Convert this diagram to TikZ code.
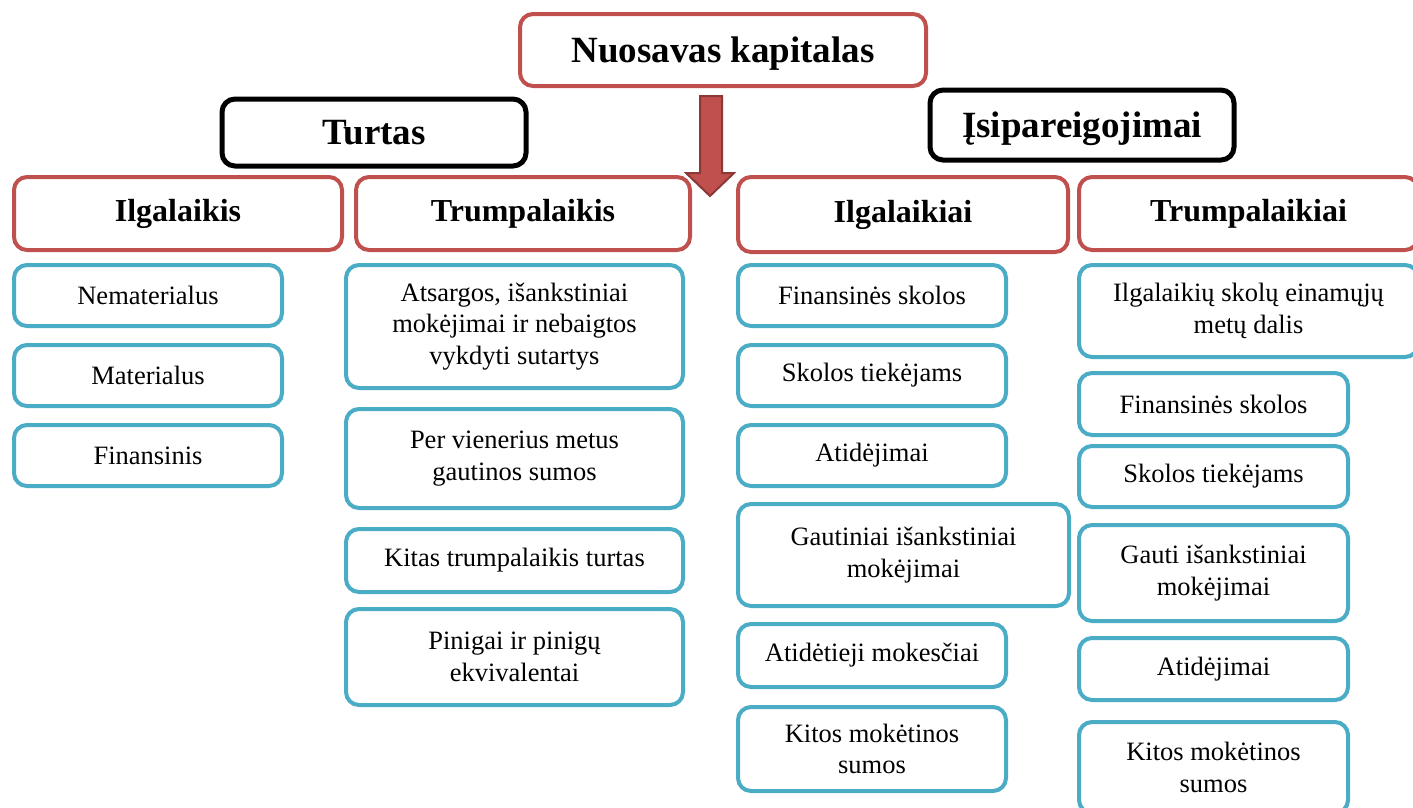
\documentclass[tikz,border=0pt]{standalone}
\usepackage{fontspec}
\setmainfont{Liberation Serif}
\definecolor{boxred}{HTML}{C0504D}
\definecolor{boxblue}{HTML}{4BACC6}
\definecolor{arrowdark}{HTML}{8C3836}
\tikzset{
  basebox/.style={rectangle, rounded corners=13pt, fill=white, inner sep=0pt, align=center, text=black},
  headbox/.style={basebox, draw=boxred, line width=4pt, font=\fontsize{37}{44}\selectfont\bfseries, text height=24.5pt, text depth=0pt},
  blackbox/.style={basebox, draw=black, line width=5pt, font=\fontsize{37}{44}\selectfont\bfseries, text height=24.5pt, text depth=0pt},
  subbox/.style={basebox, draw=boxred, line width=4pt, font=\fontsize{32}{38}\selectfont\bfseries},
  itembox/.style={basebox, draw=boxblue, line width=4pt, font=\fontsize{26.5}{31.5}\selectfont},
}
\newcommand{\bx}[7]{%
  \node[#2, minimum width={(#5-#3-4)*1pt}, minimum height={(#6-#4-4)*1pt}]
    (#1) at ({(#3+#5)/2*1pt},{-(#4+#6)/2*1pt}) {#7};}
\begin{document}
\begin{tikzpicture}[x=1pt,y=-1pt]
\useasboundingbox (0,0) rectangle (1413,807);
\clip (0,0) rectangle (1413,807);
% top
\bx{nk}{headbox}{518}{12}{928}{88}{Nuosavas kapitalas}
\bx{turtas}{blackbox}{220}{97}{528}{168}{Turtas}
\bx{isip}{blackbox}{928}{88}{1236}{162}{Įsipareigojimai}
% arrow
\draw[fill=boxred, draw=arrowdark, line width=2pt, line join=miter]
  (700,96) -- (722,96) -- (722,173) -- (734,173) -- (710,196) -- (686,173) -- (700,173) -- cycle;
% sub headings
\bx{ilg}{subbox}{12}{175}{344}{252}{Ilgalaikis}
\bx{trump}{subbox}{354}{175}{692}{252}{Trumpalaikis}
\bx{ilgi}{subbox}{736}{175}{1070}{254}{Ilgalaikiai}
\bx{trumpi}{subbox}{1077}{175}{1420}{252}{Trumpalaikiai}
% column 1
\bx{c1a}{itembox}{12}{263}{284}{328}{Nematerialus}
\bx{c1b}{itembox}{12}{343}{284}{408}{Materialus}
\bx{c1c}{itembox}{12}{423}{284}{488}{Finansinis}
% column 2
\bx{c2a}{itembox}{344}{263}{685}{390}{Atsargos, išankstiniai\\mokėjimai ir nebaigtos\\vykdyti sutartys}
\bx{c2b}{itembox}{344}{407}{685}{510}{Per vienerius metus\\gautinos sumos}
\bx{c2c}{itembox}{344}{527}{685}{594}{Kitas trumpalaikis turtas}
\bx{c2d}{itembox}{344}{607}{685}{707}{Pinigai ir pinigų\\ekvivalentai}
% column 3
\bx{c3a}{itembox}{736}{263}{1008}{328}{Finansinės skolos}
\bx{c3b}{itembox}{736}{343}{1008}{408}{Skolos tiekėjams}
\bx{c3c}{itembox}{736}{423}{1008}{488}{Atidėjimai}
\bx{c3d}{itembox}{736}{502}{1071}{608}{Gautiniai išankstiniai\\mokėjimai}
\bx{c3e}{itembox}{736}{622}{1008}{689}{Atidėtieji mokesčiai}
\bx{c3f}{itembox}{736}{705}{1008}{793}{Kitos mokėtinos\\sumos}
% column 4
\bx{c4a}{itembox}{1077}{263}{1420}{359}{Ilgalaikių skolų einamųjų\\metų dalis}
\bx{c4b}{itembox}{1077}{371}{1350}{437}{Finansinės skolos}
\bx{c4c}{itembox}{1077}{444}{1350}{509}{Skolos tiekėjams}
\bx{c4d}{itembox}{1077}{523}{1350}{623}{Gauti išankstiniai\\mokėjimai}
\bx{c4e}{itembox}{1077}{636}{1350}{702}{Atidėjimai}
\bx{c4f}{itembox}{1077}{720}{1350}{815}{Kitos mokėtinos\\sumos}
\end{tikzpicture}
\end{document}
